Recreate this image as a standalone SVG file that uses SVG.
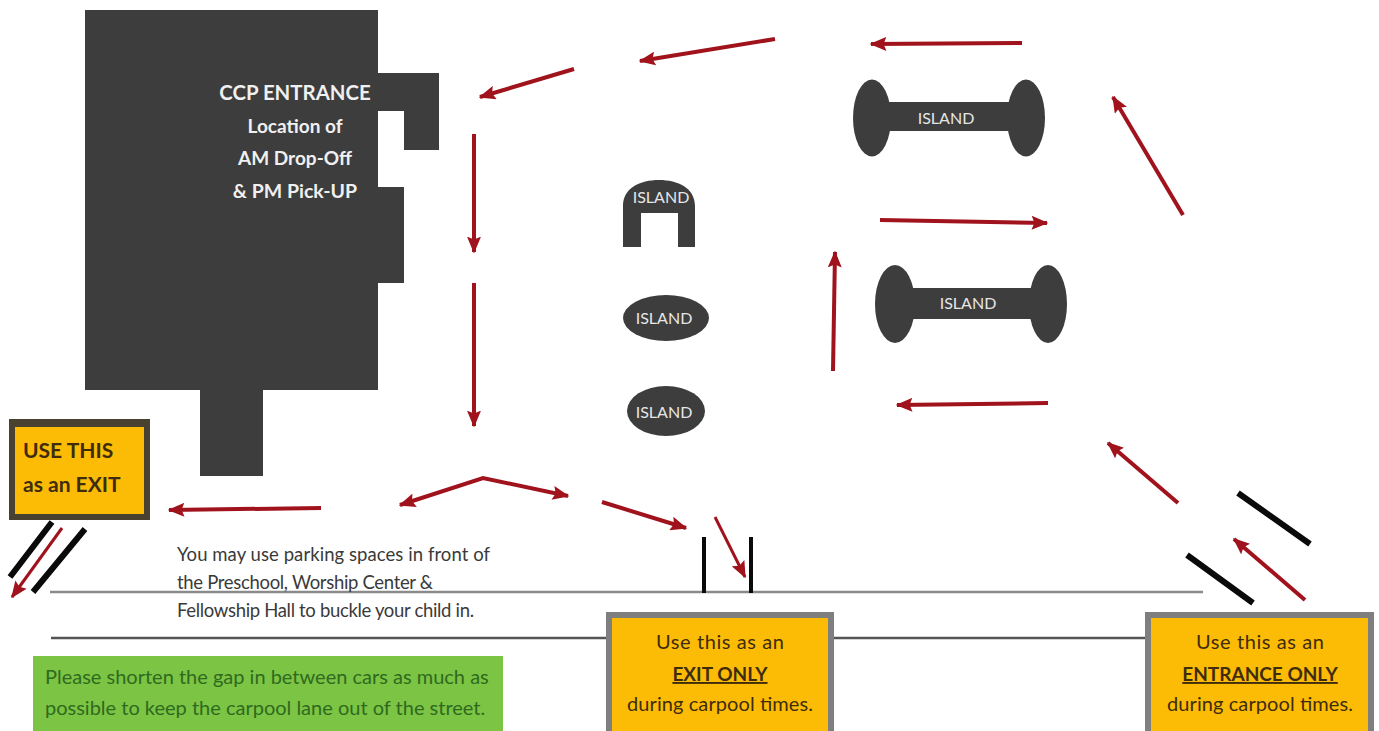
<svg xmlns="http://www.w3.org/2000/svg" width="1379" height="731" viewBox="0 0 1379 731">
<style>
text{font-family:"Lato","Open Sans","Liberation Sans",sans-serif}
.dark{fill:#3d3d3d}
.w{fill:#f0f0f0;text-anchor:middle;font-weight:700}
.isl{fill:#e6e6e6;text-anchor:middle;font-size:16px}
.arrow{fill:none;stroke:#a0121c;stroke-width:4;marker-end:url(#h)}
.thin{stroke-width:3}
.tick{stroke:#0a0a0a;stroke-width:6;fill:none}
.post{stroke:#0a0a0a;stroke-width:4;fill:none}
.road{fill:none;stroke-width:2.4}
.body{font-size:18.5px;fill:#3a3a3a}
.sign{font-size:20px;fill:#3f2c0c;text-anchor:middle}
.green{font-size:20px;fill:#2f6a1e}
</style>
<defs>
<marker id="h" viewBox="0 0 12 10" refX="11" refY="5" markerWidth="17" markerHeight="14" markerUnits="userSpaceOnUse" orient="auto-start-reverse"><path d="M0 0L12 5L0 10L2 5Z" fill="#a0121c"/></marker>
</defs>
<rect width="1379" height="731" fill="#fff"/>
<g id="roads">
<path class="road" stroke="#8a8a8a" d="M50 592H1203"/>
<path class="road" stroke="#555" d="M51 638H606M834 638H1145"/>
<path class="post" d="M704 537V593M751 537V593"/>
<path class="tick" d="M1187 555L1253 603M1238 493L1310 544M10 577L52 522M33 592L85 529"/>
</g>
<g id="building">
<path class="dark" d="M85 10H378V73H439V150H404V111H378V187H404V283H378V390H263V476H200V390H85Z"/>
<text class="w" x="295" y="100" font-size="20.4">CCP ENTRANCE</text>
<text class="w" x="295" y="133" font-size="19">Location of</text>
<text class="w" x="295" y="165" font-size="19">AM Drop-Off</text>
<text class="w" x="295" y="198" font-size="19.5">&amp; PM Pick-UP</text>
</g>
<g id="island-arch">
<path class="dark" d="M623 247V206C623 188 640 180 659 180S695 188 695 206V247H678V213H641V247Z"/>
<text class="isl" x="661" y="203">ISLAND</text>
</g>
<g id="island-oval-1">
<ellipse class="dark" cx="666" cy="318" rx="43" ry="23"/>
<text class="isl" x="664" y="324">ISLAND</text>
</g>
<g id="island-oval-2">
<ellipse class="dark" cx="666" cy="411" rx="39" ry="25"/>
<text class="isl" x="664" y="418">ISLAND</text>
</g>
<g id="island-dumbbell-1">
<ellipse class="dark" cx="872" cy="118" rx="19" ry="38.5"/>
<ellipse class="dark" cx="1026" cy="118" rx="19" ry="38.5"/>
<rect class="dark" x="880" y="102" width="138" height="29"/>
<text class="isl" x="946" y="124">ISLAND</text>
</g>
<g id="island-dumbbell-2">
<ellipse class="dark" cx="895" cy="304" rx="20" ry="39"/>
<ellipse class="dark" cx="1048" cy="304" rx="19" ry="39"/>
<rect class="dark" x="903" y="288" width="137" height="31"/>
<text class="isl" x="968" y="309">ISLAND</text>
</g>
<g id="connectors">
<path class="arrow" d="M775 39L640 61"/>
<path class="arrow" d="M1022 43L871 44"/>
<path class="arrow" d="M574 69L480 97"/>
<path class="arrow" d="M474 134V252"/>
<path class="arrow" d="M474 283V426"/>
<path class="arrow" d="M321 508L169 510"/>
<path class="arrow" style="marker-start:url(#h)" d="M400 505L483 478L568 496"/>
<path class="arrow" d="M602 502L686 528"/>
<path class="arrow thin" d="M715 517L745 577"/>
<path class="arrow" d="M1183 215L1113 97"/>
<path class="arrow" d="M880 220L1047 223"/>
<path class="arrow" d="M833 371L835 252"/>
<path class="arrow" d="M1048 403L897 405"/>
<path class="arrow" d="M1178 503L1108 443"/>
<path class="arrow" d="M1305 600L1234 539"/>
<path class="arrow thin" d="M62 528L12 597"/>
</g>
<g id="sign-exit">
<rect x="9" y="419" width="141" height="101" fill="#4a4230"/>
<rect x="15" y="427" width="129" height="87" fill="#fcbc05"/>
<text x="23" y="458" font-size="21" font-weight="700" fill="#3f2c0c">USE THIS</text>
<text x="23" y="492" font-size="21" font-weight="700" fill="#3f2c0c">as an EXIT</text>
</g>
<g id="parking-note">
<text class="body" x="177" y="561" textLength="313">You may use parking spaces in front of</text>
<text class="body" x="177" y="589" textLength="256">the Preschool, Worship Center &amp;</text>
<text class="body" x="177" y="617" textLength="297">Fellowship Hall to buckle your child in.</text>
</g>
<g id="green-note">
<rect x="33" y="656" width="470" height="75" fill="#7cc444"/>
<text class="green" x="45" y="684">Please shorten the gap in between cars as much as</text>
<text class="green" x="45" y="715">possible to keep the carpool lane out of the street.</text>
</g>
<g id="sign-exit-only">
<rect x="606" y="612" width="228" height="119" fill="#7f7f7f"/>
<rect x="612" y="618" width="216" height="113" fill="#fcbc05"/>
<text class="sign" x="720" y="649" textLength="128">Use this as an</text>
<text class="sign" x="720" y="681" style="font-size:19px" font-weight="700" text-decoration="underline">EXIT ONLY</text>
<text class="sign" x="720" y="711" textLength="186">during carpool times.</text>
</g>
<g id="sign-entrance-only">
<rect x="1145" y="612" width="229" height="119" fill="#7f7f7f"/>
<rect x="1151" y="618" width="217" height="113" fill="#fcbc05"/>
<text class="sign" x="1260" y="649" textLength="128">Use this as an</text>
<text class="sign" x="1260" y="681" style="font-size:19px" font-weight="700" text-decoration="underline">ENTRANCE ONLY</text>
<text class="sign" x="1260" y="711" textLength="186">during carpool times.</text>
</g>
</svg>
